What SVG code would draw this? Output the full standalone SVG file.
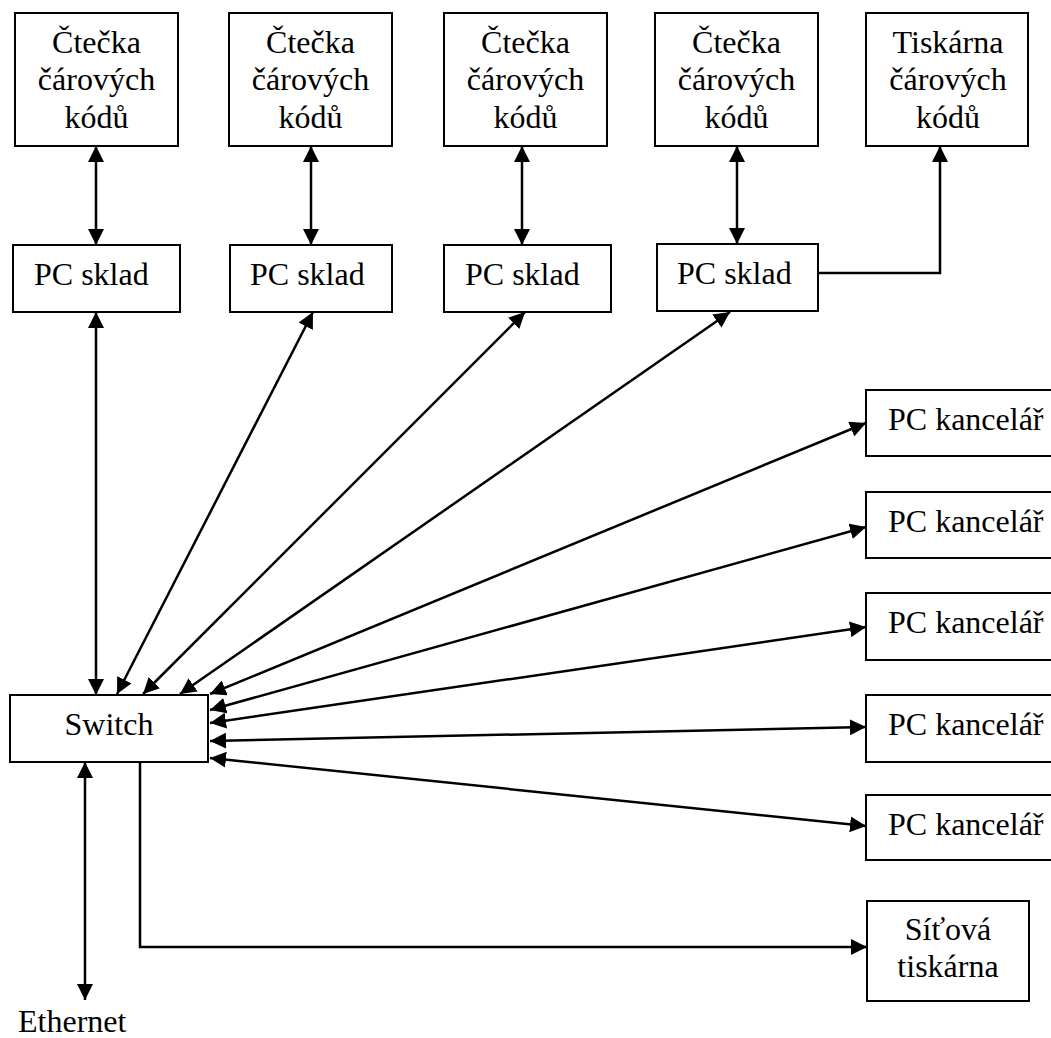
<svg xmlns="http://www.w3.org/2000/svg" width="1051" height="1038" viewBox="0 0 1051 1038">
<style>
.box{fill:#fff;stroke:#000;stroke-width:2}
.t{font-family:'Liberation Serif','Times New Roman','DejaVu Serif',serif;font-size:32px;fill:#000}
.c{text-anchor:middle}
.ln{fill:none;stroke:#000;stroke-width:2.5}
.bi{marker-start:url(#ah);marker-end:url(#ah)}
.one{marker-end:url(#ah)}
</style>
<defs>
<marker id="ah" markerUnits="userSpaceOnUse" markerWidth="16" markerHeight="16" viewBox="0 0 16 16" refX="16" refY="8" orient="auto-start-reverse">
<path d="M0,0 L16,8 L0,16 z" fill="#000"/>
</marker>
</defs>
<rect width="1051" height="1038" fill="#fff"/>
<g id="connectors">
<line class="ln bi" x1="96" y1="146" x2="96" y2="245"/>
<line class="ln bi" x1="311" y1="146" x2="311" y2="245"/>
<line class="ln bi" x1="522" y1="146" x2="522" y2="245"/>
<line class="ln bi" x1="737" y1="146" x2="737" y2="244"/>
<path class="ln one" d="M818,273 H940 V146"/>
<line class="ln bi" x1="96" y1="312" x2="96" y2="695"/>
<line class="ln bi" x1="313" y1="312" x2="117" y2="694"/>
<line class="ln bi" x1="525" y1="312" x2="143" y2="694"/>
<line class="ln bi" x1="730" y1="312" x2="180" y2="694"/>
<line class="ln bi" x1="210" y1="694" x2="866" y2="423"/>
<line class="ln bi" x1="210" y1="710" x2="866" y2="527"/>
<line class="ln bi" x1="210" y1="723" x2="866" y2="627"/>
<line class="ln bi" x1="210" y1="741" x2="866" y2="727"/>
<line class="ln bi" x1="210" y1="758" x2="866" y2="826"/>
<line class="ln bi" x1="85" y1="762" x2="85" y2="1000"/>
<path class="ln one" d="M140,762 V947 H867"/>
</g>
<g id="reader1"><rect class="box" x="15" y="13" width="163" height="133"/><text class="t c" font-family="Liberation Serif" x="96.5" y="53">Čtečka</text><text class="t c" font-family="Liberation Serif" x="96.5" y="90">čárových</text><text class="t c" font-family="Liberation Serif" x="96.5" y="128">kódů</text></g>
<g id="reader2"><rect class="box" x="229" y="13" width="163" height="133"/><text class="t c" x="310.5" y="53">Čtečka</text><text class="t c" x="310.5" y="90">čárových</text><text class="t c" x="310.5" y="128">kódů</text></g>
<g id="reader3"><rect class="box" x="444" y="13" width="163" height="133"/><text class="t c" x="525.5" y="53">Čtečka</text><text class="t c" x="525.5" y="90">čárových</text><text class="t c" x="525.5" y="128">kódů</text></g>
<g id="reader4"><rect class="box" x="655" y="13" width="163" height="133"/><text class="t c" x="736.5" y="53">Čtečka</text><text class="t c" x="736.5" y="90">čárových</text><text class="t c" x="736.5" y="128">kódů</text></g>
<g id="labelprinter"><rect class="box" x="866" y="13" width="162" height="133"/><text class="t c" x="948" y="53">Tiskárna</text><text class="t c" x="948" y="90">čárových</text><text class="t c" x="948" y="128">kódů</text></g>
<g id="pcsklad1"><rect class="box" x="13" y="245" width="167" height="67"/><text class="t" x="34" y="285">PC sklad</text></g>
<g id="pcsklad2"><rect class="box" x="230" y="245" width="162" height="67"/><text class="t" x="250" y="285">PC sklad</text></g>
<g id="pcsklad3"><rect class="box" x="444" y="245" width="167" height="67"/><text class="t" x="465" y="285">PC sklad</text></g>
<g id="pcsklad4"><rect class="box" x="657" y="244" width="161" height="67"/><text class="t" x="677" y="284">PC sklad</text></g>
<g id="switch"><rect class="box" x="10" y="695" width="198" height="67"/><text class="t c" x="109" y="735">Switch</text></g>
<g id="pckancelar1"><rect class="box" x="866" y="390" width="200" height="66"/><text class="t" x="888" y="430">PC kancelář</text></g>
<g id="pckancelar2"><rect class="box" x="866" y="492" width="200" height="66"/><text class="t" x="888" y="532">PC kancelář</text></g>
<g id="pckancelar3"><rect class="box" x="866" y="593" width="200" height="67"/><text class="t" x="888" y="633">PC kancelář</text></g>
<g id="pckancelar4"><rect class="box" x="866" y="695" width="200" height="67"/><text class="t" x="888" y="735">PC kancelář</text></g>
<g id="pckancelar5"><rect class="box" x="866" y="795" width="200" height="65"/><text class="t" x="888" y="835">PC kancelář</text></g>
<g id="netprinter"><rect class="box" x="867" y="901" width="162" height="100"/><text class="t c" x="948" y="940">Síťová</text><text class="t c" x="948" y="977">tiskárna</text></g>
<g id="ethernet"><text class="t" x="18" y="1032">Ethernet</text></g>
</svg>
